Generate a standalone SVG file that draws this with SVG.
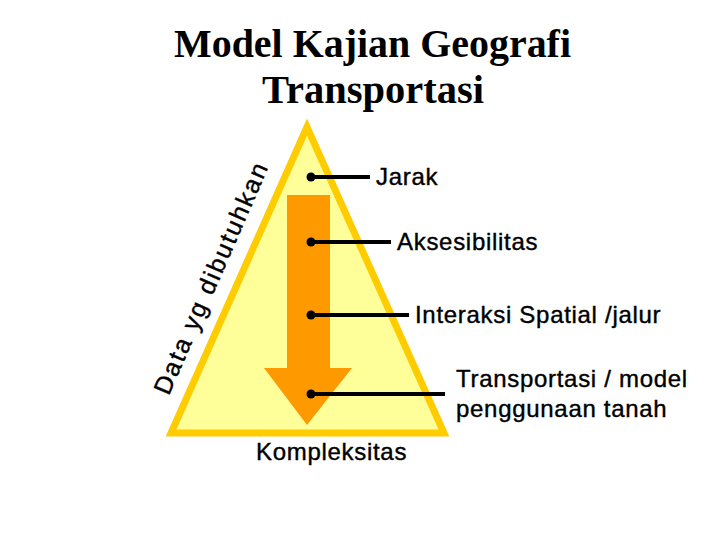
<svg xmlns="http://www.w3.org/2000/svg" width="720" height="540" viewBox="0 0 720 540">
<style>
.t{font-family:"Liberation Sans",Arial,sans-serif;font-size:24px;letter-spacing:0.7px;fill:#000;stroke:#000;stroke-width:0.4}
.ti{font-family:"Liberation Serif","Times New Roman",serif;font-size:41px;font-weight:bold;fill:#000}
.c{stroke:#000;stroke-width:4;fill:none}
</style>
<rect width="720" height="540" fill="#fff"/>
<g id="title">
<text class="ti" x="174" y="57" textLength="397" lengthAdjust="spacingAndGlyphs">Model Kajian Geografi</text>
<text class="ti" x="262" y="103" textLength="222" lengthAdjust="spacingAndGlyphs">Transportasi</text>
</g>
<g id="triangle">
<polygon points="307,127 171,433 444,433" fill="#FFFF99" stroke="#FFCC00" stroke-width="7" stroke-linejoin="miter"/>
</g>
<g id="arrow">
<polygon points="287,195 330,195 330,368 352,368 307,425 264,368 287,368" fill="#FF9900"/>
</g>
<g id="side-label">
<text class="t" style="font-size:25px;letter-spacing:2px" text-anchor="middle" transform="translate(219,281) rotate(-66.5)">Data yg dibutuhkan</text>
</g>
<g id="connectors">
<line class="c" x1="311" y1="177" x2="370" y2="177"/>
<circle cx="311" cy="177" r="4.5"/>
<line class="c" x1="311" y1="242" x2="391" y2="242"/>
<circle cx="311" cy="242" r="4.5"/>
<line class="c" x1="311" y1="315" x2="409" y2="315"/>
<circle cx="311" cy="315" r="4.5"/>
<line class="c" x1="311" y1="394" x2="445" y2="394"/>
<circle cx="311" cy="394" r="4.5"/>
</g>
<g id="labels">
<text class="t" x="376" y="185">Jarak</text>
<text class="t" x="397" y="250">Aksesibilitas</text>
<text class="t" x="415" y="323">Interaksi Spatial /jalur</text>
<text class="t" x="456" y="387">Transportasi / model</text>
<text class="t" x="456" y="417">penggunaan tanah</text>
<text class="t" x="256" y="460">Kompleksitas</text>
</g>
</svg>
